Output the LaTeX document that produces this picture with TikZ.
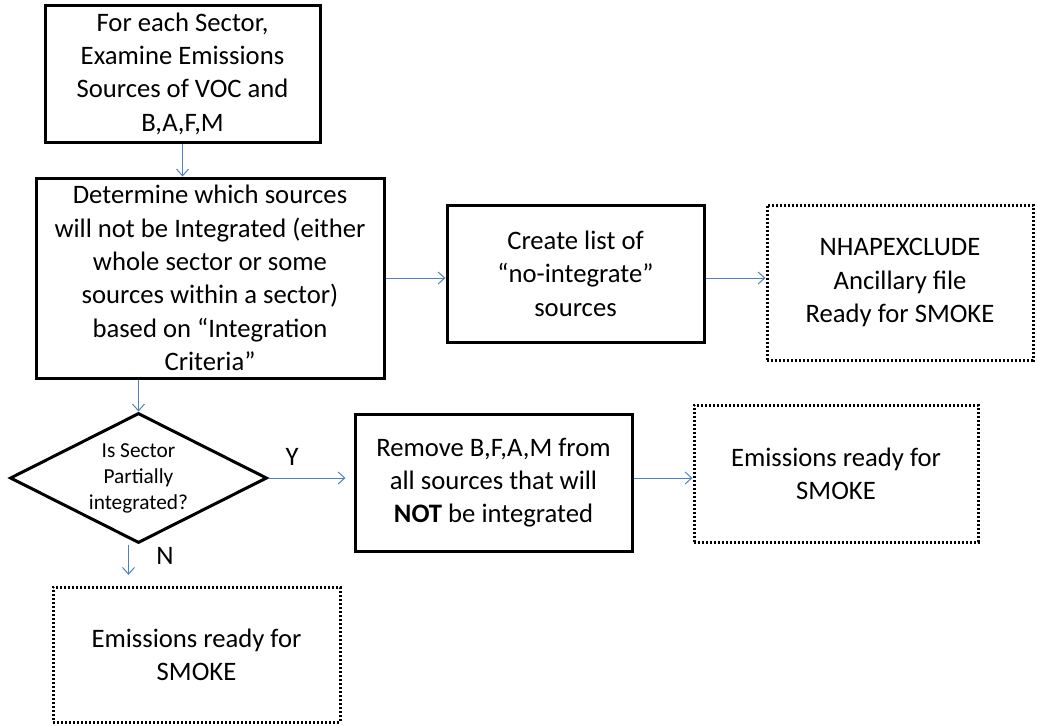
\documentclass[tikz,border=0pt]{standalone}
\usepackage{fontspec}
\setmainfont{Carlito}
\usetikzlibrary{shapes.geometric,arrows.meta}
\definecolor{flowblue}{RGB}{79,129,189}
\begin{document}
\begin{tikzpicture}[x=0.75pt, y=-0.75pt,
		procbox/.style={draw, rectangle, line width=2.25pt, align=center, inner sep=0pt, font=\fontsize{20}{25}\selectfont},
		readybox/.style={procbox, line width=2.25pt, dash pattern=on 1.6pt off 1.4pt},
		decision/.style={draw, diamond, aspect=2, line width=2.25pt, align=center, inner sep=0pt, font=\fontsize{16}{19.5}\selectfont},
		flow/.style={draw=flowblue, line width=0.75pt, -{Straight Barb[length=5pt,width=9pt]}}]
			\useasboundingbox (0,0) rectangle (1037,725);
			\node[procbox, minimum width=206.25pt, minimum height=102.75pt] (sector) at (182.5,73.5) {For each Sector,\\Examine Emissions\\Sources of VOC and\\B,A,F,M};
			\node[procbox, minimum width=261pt, minimum height=150pt] (determine) at (210,278) {Determine which sources\\will not be Integrated (either\\whole sector or some\\sources within a sector)\\based on “Integration\\Criteria”};
			\node[procbox, minimum width=192.75pt, minimum height=102.75pt] (list) at (575.5,273.5) {Create list of\\“no-integrate”\\sources};
			\node[readybox, minimum width=199.5pt, minimum height=116.25pt] (nhap) at (900,282.5) {NHAPEXCLUDE\\Ancillary file\\Ready for SMOKE};
			\node[decision, minimum width=192.75pt, minimum height=97.5pt] (partial) at (138.5,478) {Is Sector\\Partially\\integrated?};
			\node[procbox, minimum width=207.75pt, minimum height=102.75pt] (remove) at (493.5,482.5) {Remove B,F,A,M from\\all sources that will\\\textbf{NOT} be integrated};
			\node[readybox, minimum width=213pt, minimum height=102.75pt] (smokey) at (836,473.5) {Emissions ready for\\SMOKE};
			\node[readybox, minimum width=215.25pt, minimum height=101.25pt] (smoken) at (196.5,654.5) {Emissions ready for\\SMOKE};
			\node[font=\fontsize{20}{25}\selectfont] (yes) at (292,457) {Y};
			\node[font=\fontsize{20}{25}\selectfont] (no) at (165,556) {N};
			\draw[flow] (sector.south) -- (sector.south |- determine.north);
			\draw[flow] (determine.east) -- (determine.east -| list.west);
			\draw[flow] (determine.east -| list.east) -- (determine.east -| nhap.west);
			\draw[flow] (partial.north |- determine.south) -- (partial.north);
			\draw[flow, shorten >=6pt] (partial.east) -- (partial.east -| remove.west);
			\draw[flow] (partial.east -| remove.east) -- (partial.east -| smokey.west);
			\draw[flow, shorten >=8pt] ([xshift=-7.5pt]partial.south) -- ([xshift=-7.5pt]partial.south |- smoken.north);
		\end{tikzpicture}
\end{document}
